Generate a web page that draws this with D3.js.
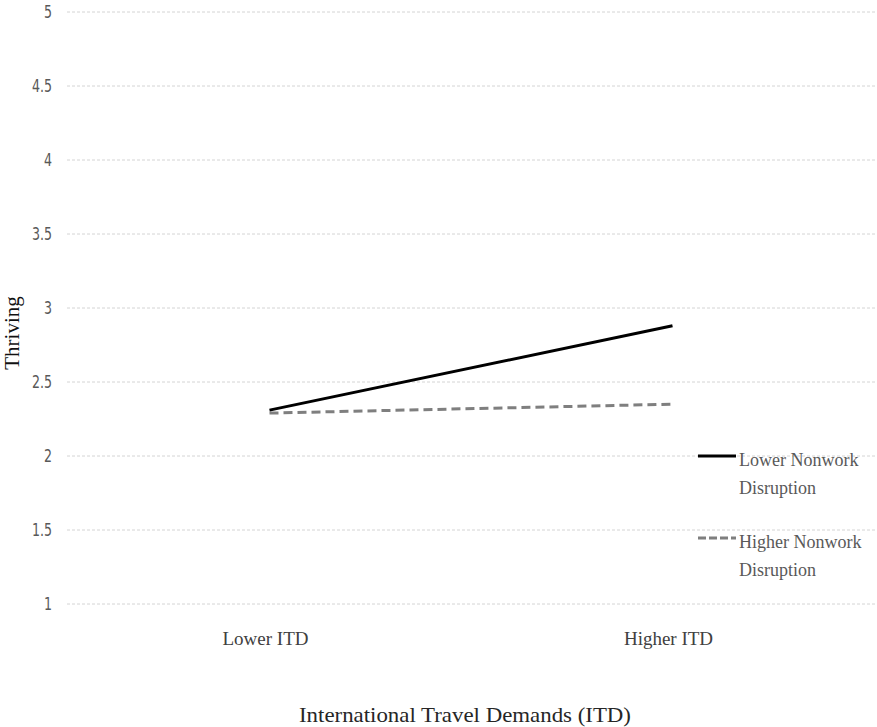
<!DOCTYPE html>
<html><head><meta charset="utf-8">
<script src="https://cdn.jsdelivr.net/npm/d3@7"></script>
<style>body{margin:0;background:#fff;} svg{display:block;}</style>
</head><body>
<svg id="chart" width="877" height="727"></svg>
<script>
const categories = ["Lower ITD", "Higher ITD"];
const seriesNames = [["Lower Nonwork", "Disruption"], ["Higher Nonwork", "Disruption"]];
const lowerNonwork = [2.31, 2.88];
const higherNonwork = [2.29, 2.35];
const yTicks = [1, 1.5, 2, 2.5, 3, 3.5, 4, 4.5, 5];
const yTitle = "Thriving";
const xTitle = "International Travel Demands (ITD)";

(function () {
const svg = d3.select("#chart");
const mLeft = 67, mRight = 877, mTop = 12, mBottom = 604;
const x = d3.scaleBand().domain(categories).range([68, 874]);
const y = d3.scaleLinear().domain([1, 5]).range([mBottom, mTop]);
const serif = "'Liberation Serif','Times New Roman',serif";

// gridlines
svg.append("g").selectAll("line").data(yTicks).join("line")
  .attr("x1", mLeft).attr("x2", mRight)
  .attr("y1", d => y(d)).attr("y2", d => y(d))
  .attr("stroke", "#d4d4d4").attr("stroke-width", 1)
  .attr("stroke-dasharray", "3,2");

// y tick labels (condensed)
svg.append("g").selectAll("text").data(yTicks).join("text")
  .attr("transform", d => `translate(52,${y(d)}) scale(0.7,1)`)
  .attr("dy", "0.35em")
  .attr("text-anchor", "end")
  .attr("font-family", "'DejaVu Sans',sans-serif")
  .attr("font-size", 18).attr("fill", "#595959")
  .text(d => d);

// x category labels
svg.append("g").selectAll("text").data(categories).join("text")
  .attr("x", d => x(d) + x.bandwidth() / 2 - 4).attr("y", 645)
  .attr("text-anchor", "middle")
  .attr("font-family", serif)
  .attr("font-size", 19).attr("fill", "#404040")
  .text(d => d);

// axis titles
svg.append("text").attr("x", 465).attr("y", 722)
  .attr("text-anchor", "middle")
  .attr("font-family", serif)
  .attr("font-size", 21).attr("fill", "#262626")
  .attr("textLength", 332).attr("lengthAdjust", "spacingAndGlyphs")
  .text(xTitle);
svg.append("text").attr("transform", "translate(19,333) rotate(-90)")
  .attr("text-anchor", "middle")
  .attr("font-family", serif)
  .attr("font-size", 21).attr("fill", "#111")
  .text(yTitle);

const line = d3.line().x((d, i) => x(categories[i]) + x.bandwidth() / 2).y(d => y(d));
svg.append("path").datum(higherNonwork).attr("d", line)
  .attr("fill", "none").attr("stroke", "#7f7f7f").attr("stroke-width", 3)
  .attr("stroke-dasharray", "9,5");
svg.append("path").datum(lowerNonwork).attr("d", line)
  .attr("fill", "none").attr("stroke", "#000").attr("stroke-width", 3);

// legend
const legY = [456, 538];
const legStyles = [{c: "#000", d: null}, {c: "#7f7f7f", d: "8,3"}];
seriesNames.forEach((names, i) => {
  const g = svg.append("g");
  g.append("line").attr("x1", 698).attr("x2", 736).attr("y1", legY[i]).attr("y2", legY[i])
    .attr("stroke", legStyles[i].c).attr("stroke-width", 3)
    .attr("stroke-dasharray", legStyles[i].d);
  g.selectAll("text").data(names).join("text")
    .attr("x", 739).attr("y", (d, j) => legY[i] + 10 + j * 28)
    .attr("font-family", serif)
    .attr("font-size", 18).attr("fill", "#595959")
    .text(d => d);
});
})();
</script>
</body></html>
